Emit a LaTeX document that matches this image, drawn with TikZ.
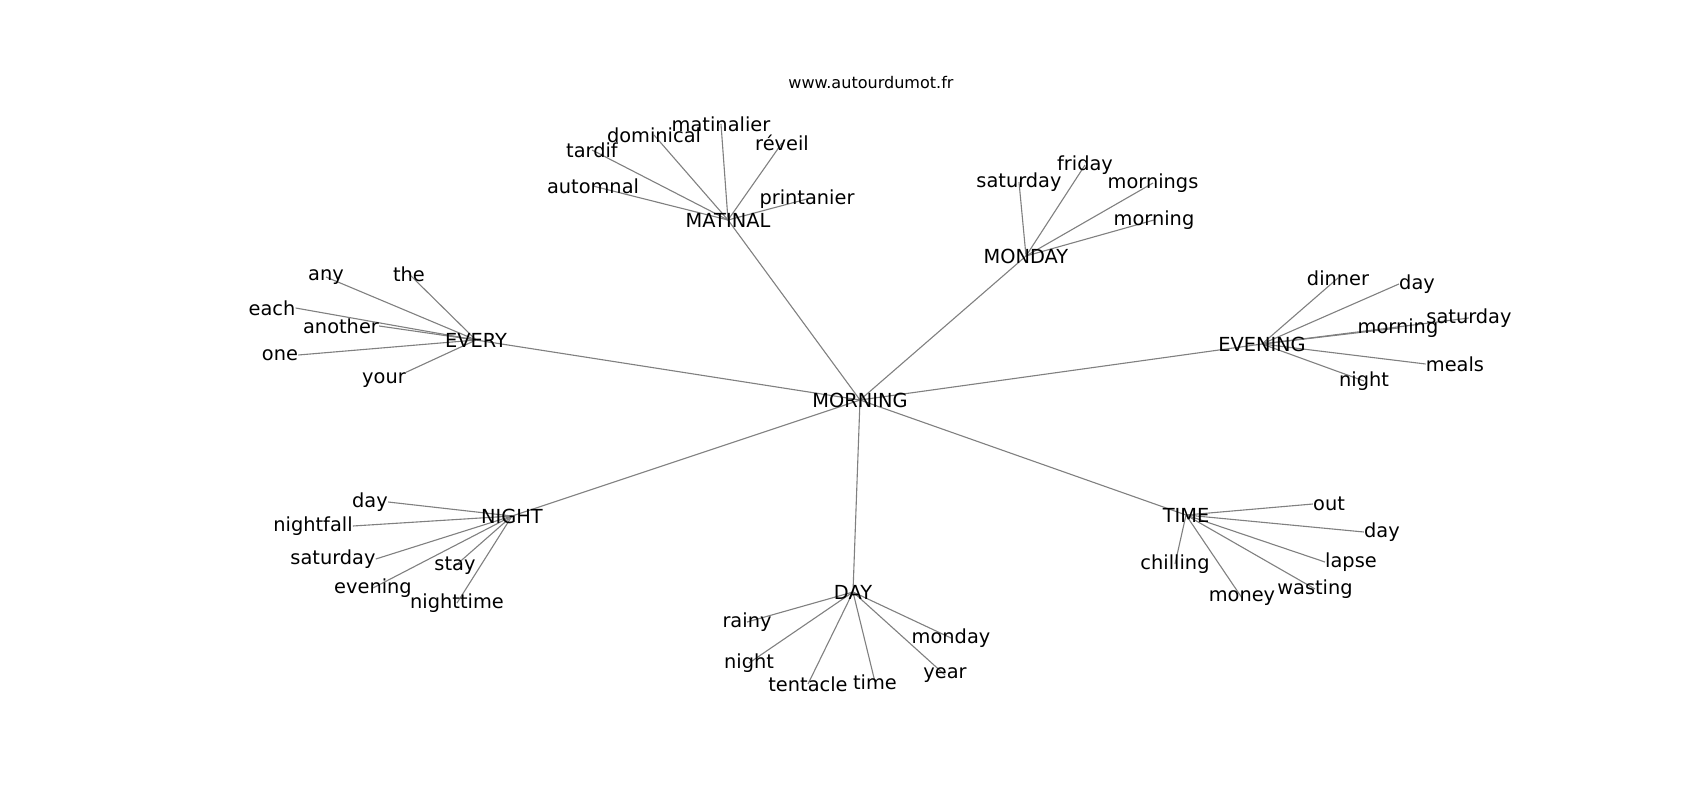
\documentclass[tikz,border=0pt]{standalone}
\usepackage{fontspec}
\setmainfont{DejaVu Sans}
\usepackage{tikz}
\usetikzlibrary{backgrounds}

\begin{document}
\begin{tikzpicture}[
    x=0.254mm, y=-0.254mm,
    hub/.style={inner sep=0pt, font=\fontsize{14}{16}\selectfont},
    word/.style={inner sep=0pt, font=\fontsize{14}{16}\selectfont},
    site/.style={inner sep=0pt, font=\fontsize{11.6}{13}\selectfont},
    edge/.style={draw=black!50, line width=0.8pt}
]
\useasboundingbox (0,0) rectangle (1700,800);

% Title
\node[site] (site) at (871,83) {www.autourdumot.fr};

% Centre
\node[hub] (morning) at (860,400) {MORNING};

% Hubs
\node[hub] (matinal) at (728,220) {MATINAL};
\node[hub] (monday) at (1026,256) {MONDAY};
\node[hub] (every) at (476,340) {EVERY};
\node[hub] (evening) at (1262,344) {EVENING};
\node[hub] (night) at (512,516) {NIGHT};
\node[hub] (day) at (853,592) {DAY};
\node[hub] (time) at (1186,515) {TIME};

% Matinal
\node[word] (mat-automnal) at (593,186) {automnal};
\node[word] (mat-tardif) at (592,150) {tardif};
\node[word] (mat-dominical) at (654,135) {dominical};
\node[word] (mat-matinalier) at (721,124) {matinalier};
\node[word] (mat-reveil) at (782,143) {réveil};
\node[word] (mat-printanier) at (807,199) {printanier};

% Monday
\node[word] (mon-saturday) at (1019,182) {saturday};
\node[word] (mon-friday) at (1085,165) {friday};
\node[word] (mon-mornings) at (1153,183) {mornings};
\node[word] (mon-morning) at (1154,220) {morning};

% Every
\node[word] (evy-any) at (326,277) {any};
\node[word] (evy-the) at (409,274) {the};
\node[word] (evy-each) at (272,308) {each};
\node[word] (evy-another) at (341,326) {another};
\node[word] (evy-one) at (280,355) {one};
\node[word] (evy-your) at (384,380) {your};

% Evening
\node[word] (evg-dinner) at (1338,278) {dinner};
\node[word] (evg-day) at (1417,284) {day};
\node[word] (evg-morning) at (1398,328) {morning};
\node[word] (evg-saturday) at (1469,318) {saturday};
\node[word] (evg-meals) at (1455,364) {meals};
\node[word] (evg-night) at (1364,381) {night};

% Night
\node[word] (nig-day) at (370,502) {day};
\node[word] (nig-nightfall) at (313,526) {nightfall};
\node[word] (nig-saturday) at (333,559) {saturday};
\node[word] (nig-stay) at (455,566) {stay};
\node[word] (nig-evening) at (373,588) {evening};
\node[word] (nig-nighttime) at (457,603) {nighttime};

% Day
\node[word] (day-rainy) at (747,622) {rainy};
\node[word] (day-night) at (749,663) {night};
\node[word] (day-tentacle) at (808,684) {tentacle};
\node[word] (day-time) at (875,682) {time};
\node[word] (day-monday) at (951,638) {monday};
\node[word] (day-year) at (945,675) {year};

% Time
\node[word] (tim-out) at (1329,504) {out};
\node[word] (tim-day) at (1382,532) {day};
\node[word] (tim-lapse) at (1351,562) {lapse};
\node[word] (tim-chilling) at (1175,564) {chilling};
\node[word] (tim-money) at (1242,598) {money};
\node[word] (tim-wasting) at (1315,589) {wasting};

% Edges
\begin{scope}[on background layer]
\draw[edge] (morning.center) -- (matinal.center);
\draw[edge] (morning.center) -- (monday.center);
\draw[edge] (morning.center) -- (every.center);
\draw[edge] (morning.center) -- (evening.center);
\draw[edge] (morning.center) -- (night.center);
\draw[edge] (morning.center) -- (day.center);
\draw[edge] (morning.center) -- (time.center);

\draw[edge] (matinal.center) -- (mat-automnal.center);
\draw[edge] (matinal.center) -- (mat-tardif.center);
\draw[edge] (matinal.center) -- (mat-dominical.center);
\draw[edge] (matinal.center) -- (mat-matinalier.center);
\draw[edge] (matinal.center) -- (mat-reveil.center);
\draw[edge] (matinal.center) -- (mat-printanier.center);

\draw[edge] (monday.center) -- (mon-saturday.center);
\draw[edge] (monday.center) -- (mon-friday.center);
\draw[edge] (monday.center) -- (mon-mornings.center);
\draw[edge] (monday.center) -- (mon-morning.center);

\draw[edge] (every.center) -- (evy-any.center);
\draw[edge] (every.center) -- (evy-the.center);
\draw[edge] (every.center) -- (evy-each.east);
\draw[edge] (every.center) -- (evy-another.east);
\draw[edge] (every.center) -- (evy-one.east);
\draw[edge] (every.center) -- (evy-your.north east);

\draw[edge] (evening.center) -- (evg-dinner.center);
\draw[edge] (evening.center) -- (evg-day.west);
\draw[edge] (evening.center) -- (evg-morning.center);
\draw[edge] (evening.center) -- (evg-saturday.center);
\draw[edge] (evening.center) -- (evg-meals.west);
\draw[edge] (evening.center) -- (evg-night.center);

\draw[edge] (night.center) -- (nig-day.east);
\draw[edge] (night.center) -- (nig-nightfall.east);
\draw[edge] (night.center) -- (nig-saturday.east);
\draw[edge] (night.center) -- (nig-stay.center);
\draw[edge] (night.center) -- (nig-evening.center);
\draw[edge] (night.center) -- (nig-nighttime.center);

\draw[edge] (day.center) -- (day-rainy.center);
\draw[edge] (day.center) -- (day-night.center);
\draw[edge] (day.center) -- (day-tentacle.center);
\draw[edge] (day.center) -- (day-time.center);
\draw[edge] (day.center) -- (day-monday.center);
\draw[edge] (day.center) -- (day-year.center);

\draw[edge] (time.center) -- (tim-out.west);
\draw[edge] (time.center) -- (tim-day.west);
\draw[edge] (time.center) -- (tim-lapse.west);
\draw[edge] (time.center) -- (tim-chilling.center);
\draw[edge] (time.center) -- (tim-money.center);
\draw[edge] (time.center) -- (tim-wasting.center);
\end{scope}

\end{tikzpicture}
\end{document}
